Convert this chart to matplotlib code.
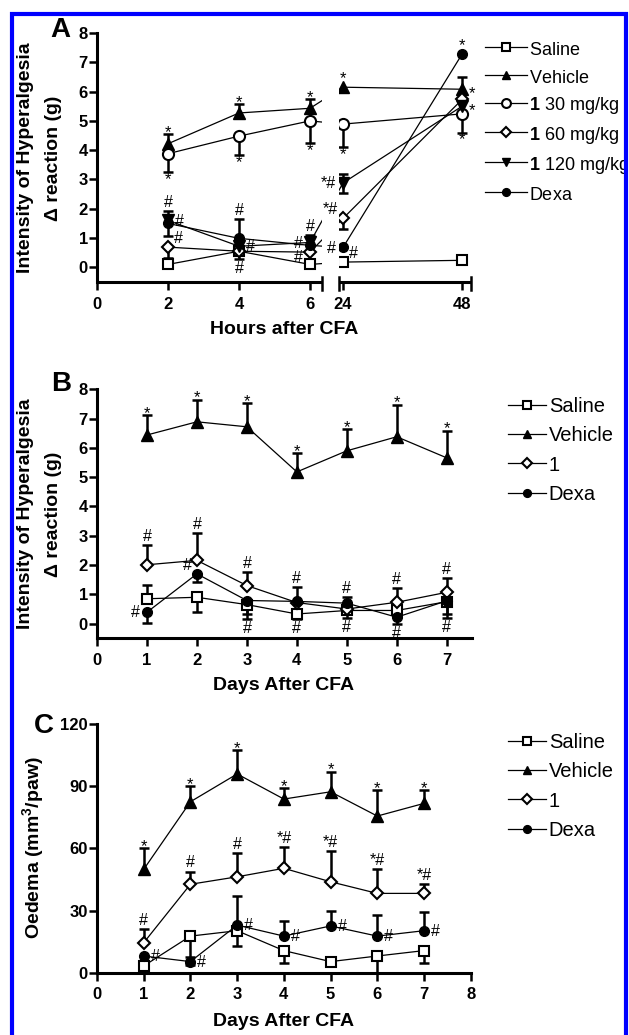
import numpy as np
import matplotlib
matplotlib.use("Agg")
import matplotlib.pyplot as plt
from matplotlib.patches import Rectangle

plt.rcParams['font.family'] = ['Liberation Sans', 'DejaVu Sans']
plt.rcParams['mathtext.fontset'] = 'custom'
plt.rcParams['mathtext.rm'] = 'Liberation Sans'
plt.rcParams['mathtext.bf'] = 'Liberation Sans:bold'

# ---------------- Panel A data (hours after CFA) ----------------
hours = [2, 4, 6, 24, 48]
hour_ticks = [0, 2, 4, 6, 24, 48]
a_saline = [0.10, 0.55, 0.10, 0.18, 0.24]
a_saline_up = [0, 0, 0, 0, 0]
a_saline_dn = [0, 0.25, 0, 0, 0]
a_vehicle = [4.22, 5.27, 5.43, 6.15, 6.08]
a_vehicle_up = [0.33, 0.30, 0.32, 0, 0.42]
a_vehicle_dn = [0, 0, 0, 0, 0]
a_30 = [3.88, 4.48, 5.00, 4.89, 5.24]
a_30_up = [0, 0, 0, 0, 0]
a_30_dn = [0.63, 0.65, 0.76, 0.79, 0.64]
a_60 = [0.69, 0.55, 0.52, 1.67, 5.73]
a_60_up = [0, 0, 0, 0, 0]
a_60_dn = [0.36, 0, 0, 0.37, 0]
a_120 = [1.60, 0.72, 0.85, 2.88, 5.50]
a_120_up = [0, 0, 0.25, 0.30, 0]
a_120_dn = [0, 0, 0, 0.33, 0]
a_dexa = [1.50, 0.99, 0.75, 0.68, 7.28]
a_dexa_up = [0.43, 0.67, 0, 0, 0]
a_dexa_dn = [0.43, 0, 0, 0, 0]
a_labels = [r'$\mathrm{Saline}$', r'$\mathrm{Vehicle}$', r'$\mathbf{1}$ 30 mg/kg',
            r'$\mathbf{1}$ 60 mg/kg', r'$\mathbf{1}$ 120 mg/kg', r'$\mathrm{Dexa}$']
a_yticks = [0, 1, 2, 3, 4, 5, 6, 7, 8]
a_notes = [('vehicle', 0, '*', 'above'), ('vehicle', 1, '*', 'above'), ('vehicle', 2, '*', 'above'),
           ('vehicle', 3, '*', 'above'), ('vehicle', 4, '*', 'right'),
           ('30', 0, '*', 'below'), ('30', 1, '*', 'below'), ('30', 2, '*', 'below'),
           ('30', 3, '*', 'below'), ('30', 4, '*', 'below'),
           ('120', 4, '*', 'right'),
           ('120', 3, '*#', 'left'), ('60', 3, '*#', 'upleft'), ('dexa', 3, '#', 'left'),
           ('dexa', 4, '*', 'above'), ('saline', 3, '#', 'upright'),
           ('dexa', 0, '#', 'above'), ('120', 0, '#', 'right'), ('60', 0, '#', 'upright'),
           ('dexa', 1, '#', 'above'), ('120', 1, '#', 'right'), ('saline', 1, '#', 'below'),
           ('120', 2, '#', 'above'), ('120', 2, '#', 'left'), ('60', 2, '#', 'downleft')]

# ---------------- Panel B data (days after CFA) ----------------
days = [1, 2, 3, 4, 5, 6, 7]
b_saline = [0.85, 0.90, 0.65, 0.33, 0.45, 0.45, 0.75]
b_saline_up = [0.47, 0, 0, 0, 0, 0, 0]
b_saline_dn = [0, 0.49, 0.32, 0.17, 0.25, 0.20, 0.42]
b_vehicle = [6.44, 6.89, 6.72, 5.18, 5.90, 6.38, 5.66]
b_vehicle_up = [0.68, 0.75, 0.80, 0.65, 0.73, 1.09, 0.93]
b_vehicle_dn = [0, 0, 0, 0, 0, 0, 0]
b_one = [2.01, 2.16, 1.30, 0.72, 0.50, 0.73, 1.07]
b_one_up = [0.66, 0.93, 0.46, 0, 0, 0.49, 0.49]
b_one_dn = [0, 0, 0, 0, 0, 0, 0]
b_dexa = [0.39, 1.70, 0.79, 0.76, 0.70, 0.22, 0.78]
b_dexa_up = [0, 0, 0, 0.48, 0.22, 0, 0]
b_dexa_dn = [0.38, 0.29, 0.63, 0, 0, 0.22, 0.58]
b_labels = ['Saline', 'Vehicle', '1', 'Dexa']
b_yticks = [0, 1, 2, 3, 4, 5, 6, 7, 8]
b_xticks = [0, 1, 2, 3, 4, 5, 6, 7]
b_notes = [('vehicle', i, '*', 'above') for i in range(7)] + \
          [('one', 0, '#', 'above'), ('one', 1, '#', 'above'), ('one', 2, '#', 'above'),
           ('dexa', 0, '#', 'left'), ('dexa', 1, '#', 'upleft'),
           ('dexa', 2, '#', 'below'), ('dexa', 3, '#', 'above'), ('saline', 3, '#', 'below'),
           ('dexa', 4, '#', 'above'), ('saline', 4, '#', 'below'),
           ('one', 5, '#', 'above'), ('dexa', 5, '#', 'below'),
           ('one', 6, '#', 'above'), ('dexa', 6, '#', 'below')]

# ---------------- Panel C data (oedema) ----------------
c_saline = [3.3, 17.7, 20.3, 10.7, 5.4, 8.1, 10.7]
c_saline_up = [0, 0, 16.7, 0, 0, 0, 0]
c_saline_dn = [0, 13.9, 7.4, 6.1, 0, 8.1, 6.1]
c_vehicle = [49.9, 82.5, 95.9, 83.8, 87.3, 75.6, 81.7]
c_vehicle_up = [10.1, 7.5, 11.5, 5.2, 9.7, 12.5, 6.4]
c_vehicle_dn = [0, 0, 0, 0, 0, 0, 0]
c_one = [14.5, 42.7, 46.3, 50.4, 43.9, 38.3, 38.3]
c_one_up = [6.5, 6.1, 11.6, 10.4, 15.0, 11.6, 4.5]
c_one_dn = [0, 0, 0, 0, 0, 0, 0]
c_dexa = [8.1, 5.4, 23.0, 17.7, 22.6, 17.7, 20.3]
c_dexa_up = [0, 2.4, 0, 7.4, 7.4, 10.2, 8.9]
c_dexa_dn = [0, 0, 0, 0, 0, 0, 0]
c_labels = ['Saline', 'Vehicle', '1', 'Dexa']
c_yticks = [0, 30, 60, 90, 120]
c_xticks = [0, 1, 2, 3, 4, 5, 6, 7, 8]
c_notes = [('vehicle', i, '*', 'above') for i in range(7)] + \
          [('one', 0, '#', 'above'), ('one', 1, '#', 'above'), ('one', 2, '#', 'above'),
           ('one', 3, '*#', 'above'), ('one', 4, '*#', 'above'), ('one', 5, '*#', 'above'),
           ('one', 6, '*#', 'above')] + \
          [('dexa', i, '#', 'right') for i in range(7)]

# ---------------- figure ----------------
W, H = 629, 1035
fig = plt.figure(figsize=(W / 100, H / 100), dpi=100)

def px_axes(l, r, top, bottom):
    return fig.add_axes([l / W, 1 - bottom / H, (r - l) / W, (bottom - top) / H])

STYLE = {
    'saline': dict(marker='s', ms=7.0, mfc='white', mew=1.5),
    'vehicle': dict(marker='^', ms=8.0, mfc='black', mew=1.0),
    '30': dict(marker='o', ms=8.0, mfc='white', mew=1.5),
    '60': dict(marker='D', ms=6.0, mfc='white', mew=1.5),
    '120': dict(marker='v', ms=8.0, mfc='black', mew=1.0),
    'one': dict(marker='D', ms=6.0, mfc='white', mew=1.5),
    'dexa': dict(marker='o', ms=7.0, mfc='black', mew=1.0),
}

def draw_series(ax, key, x, y, up, dn, label):
    x = np.asarray(x, float); y = np.asarray(y, float)
    up = np.asarray(up, float); dn = np.asarray(dn, float)
    for err, sgn in ((up, 1), (dn, -1)):
        m = err > 0
        if m.any():
            ax.vlines(x[m], y[m], y[m] + sgn * err[m], colors='black', lw=1.8, zorder=2.1)
            ax.plot(x[m], y[m] + sgn * err[m], ls='none', marker='_', ms=7.5, mew=1.8,
                    color='black', zorder=2.1)
    ln, = ax.plot(x, y, color='black', lw=0.9, mec='black', zorder=2.2, label=label,
                  **STYLE[key])
    return ln

def add_notes(ax, series, notes):
    for key, i, txt, mode in notes:
        x, y, up, dn = series[key]
        x, y, up, dn = x[i], y[i], up[i], dn[i]
        fs = 12 if txt == '*' else 11.5
        kw = dict(textcoords='offset points', fontsize=fs, zorder=4, annotation_clip=False)
        star = '#' not in txt
        if mode == 'above':
            extra = 0 if up > 0 else 5
            ax.annotate(txt, (x, y + up), xytext=(0, (-2 if star else 3) + extra),
                        ha='center', va='baseline', **kw)
        elif mode == 'below':
            extra = 0 if dn > 0 else -5
            ax.annotate(txt, (x, y - dn), xytext=(0, (0 if star else -1.5) + extra),
                        ha='center', va='top', **kw)
        elif mode == 'left':
            ax.annotate(txt, (x, y), xytext=(-5, -0.5 if not star else -3),
                        ha='right', va='center', **kw)
        elif mode == 'right':
            ax.annotate(txt, (x, y), xytext=(5, -0.5 if not star else -3),
                        ha='left', va='center', **kw)
        elif mode == 'upright':
            ax.annotate(txt, (x, y), xytext=(4, 3), ha='left', va='baseline', **kw)
        elif mode == 'upleft':
            ax.annotate(txt, (x, y), xytext=(-4, 3), ha='right', va='baseline', **kw)
        elif mode == 'downleft':
            ax.annotate(txt, (x, y), xytext=(-5, -4), ha='right', va='center', **kw)

def style_axes(ax, xpad=5):
    for s in ['top', 'right']:
        ax.spines[s].set_visible(False)
    for s in ['left', 'bottom']:
        ax.spines[s].set_linewidth(2.2)
    ax.tick_params(axis='both', direction='out', length=5.5, width=1.8, labelsize=12)
    ax.tick_params(axis='y', pad=1)
    ax.tick_params(axis='x', pad=xpad)
    for lab in ax.get_xticklabels() + ax.get_yticklabels():
        lab.set_fontweight('bold')

def add_legend(ax, handles, labels, x_px, y_px, fs, hlen, pad, pitch, hheight=0.7):
    return ax.legend(handles, labels, loc='upper left',
                     bbox_to_anchor=(x_px / W, 1 - y_px / H), bbox_transform=fig.transFigure,
                     frameon=False, fontsize=fs, handlelength=hlen, handletextpad=pad,
                     labelspacing=pitch, borderpad=0, borderaxespad=0, numpoints=1,
                     markerscale=0.8, handleheight=hheight)

# ---------- Panel A with broken x axis ----------
BRK_LO, BRK_HI = 225 / 35.5, 23.2

def fwd(x):
    x = np.asarray(x, float)
    return np.where(x <= BRK_LO, x * 35.5,
                    np.where(x <= BRK_HI, 225 + (x - BRK_LO) * 17 / (BRK_HI - BRK_LO),
                             242 + (x - BRK_HI) * 4.96))

def inv(u):
    u = np.asarray(u, float)
    return np.where(u <= 225, u / 35.5,
                    np.where(u <= 242, BRK_LO + (u - 225) * (BRK_HI - BRK_LO) / 17,
                             BRK_HI + (u - 242) / 4.96))

axA = px_axes(97, 471, 33, 282)
axA.set_xscale('function', functions=(fwd, inv))
A_XMAX = 49.8
axA.set_xlim(0, A_XMAX)
axA.set_ylim(-0.5, 8)
series_a = {
    'saline': (hours, a_saline, a_saline_up, a_saline_dn),
    'vehicle': (hours, a_vehicle, a_vehicle_up, a_vehicle_dn),
    '30': (hours, a_30, a_30_up, a_30_dn),
    '60': (hours, a_60, a_60_up, a_60_dn),
    '120': (hours, a_120, a_120_up, a_120_dn),
    'dexa': (hours, a_dexa, a_dexa_up, a_dexa_dn),
}
hA = []
for key, lab in zip(['saline', 'vehicle', '30', '60', '120', 'dexa'], a_labels):
    hA.append(draw_series(axA, key, *series_a[key], lab))
axA.axvspan(BRK_LO, BRK_HI, color='white', zorder=2.6, lw=0)
add_notes(axA, series_a, a_notes)
axA.set_xticks(hour_ticks)
axA.set_yticks(a_yticks)
axA.xaxis.set_minor_locator(matplotlib.ticker.NullLocator())
style_axes(axA)
axA.spines['bottom'].set_visible(False)
tr = axA.get_xaxis_transform()
for x0, x1 in ((0, BRK_LO), (BRK_HI, A_XMAX)):
    axA.plot([x0, x1], [0, 0], transform=tr, color='black', lw=2.2,
             solid_capstyle='butt', clip_on=False, zorder=5)
for xe in (BRK_LO, BRK_HI, A_XMAX):
    axA.plot([xe, xe], [-8 / 249, 5 / 249], transform=tr, color='black', lw=1.8,
             clip_on=False, zorder=5)
add_legend(axA, hA, a_labels, 485, 39, 13, 2.3, 0.15, 0.437, hheight=1.3)

# ---------- Panel B ----------
axB = px_axes(97, 471.7, 389.3, 638.3)
axB.set_xlim(0, 7.5)
axB.set_ylim(-0.5, 8)
series_b = {
    'saline': (days, b_saline, b_saline_up, b_saline_dn),
    'vehicle': (days, b_vehicle, b_vehicle_up, b_vehicle_dn),
    'one': (days, b_one, b_one_up, b_one_dn),
    'dexa': (days, b_dexa, b_dexa_up, b_dexa_dn),
}
hB = [draw_series(axB, k, *series_b[k], lab) for k, lab in
      zip(['saline', 'vehicle', 'one', 'dexa'], b_labels)]
add_notes(axB, series_b, b_notes)
axB.set_xticks(b_xticks)
axB.set_yticks(b_yticks)
style_axes(axB)
add_legend(axB, hB, b_labels, 508, 397, 14.5, 1.9, 0.12, 0.51)

# ---------- Panel C ----------
axC = px_axes(97, 470.7, 724, 972.8)
axC.set_xlim(0, 8)
axC.set_ylim(0, 120)
series_c = {
    'saline': (days, c_saline, c_saline_up, c_saline_dn),
    'vehicle': (days, c_vehicle, c_vehicle_up, c_vehicle_dn),
    'one': (days, c_one, c_one_up, c_one_dn),
    'dexa': (days, c_dexa, c_dexa_up, c_dexa_dn),
}
hC = [draw_series(axC, k, *series_c[k], lab) for k, lab in
      zip(['saline', 'vehicle', 'one', 'dexa'], c_labels)]
add_notes(axC, series_c, c_notes)
axC.set_xticks(c_xticks)
axC.set_yticks(c_yticks)
style_axes(axC)
add_legend(axC, hC, c_labels, 508, 733, 14.5, 1.9, 0.12, 0.51)

# ---------- labels ----------
LFS = 14
def ftext(x, y, s, **kw):
    fig.text(x / W, 1 - y / H, s, **kw)

ftext(60, 30, 'A', fontsize=20, fontweight='bold', ha='center', va='center')
ftext(61, 384, 'B', fontsize=20, fontweight='bold', ha='center', va='center')
ftext(44, 726, 'C', fontsize=20, fontweight='bold', ha='center', va='center')

for yc in (158, 514):
    ftext(26, yc, 'Intensity of Hyperalgesia', fontsize=LFS, fontweight='bold',
          rotation=90, ha='center', va='center')
    ftext(54, yc, '\u0394 reaction (g)', fontsize=LFS, fontweight='bold',
          rotation=90, ha='center', va='center')
ftext(34, 848, 'Oedema (mm$^{\\mathbf{3}}$/paw)', fontsize=LFS, fontweight='bold',
      rotation=90, ha='center', va='center')

ftext(284, 330, 'Hours after CFA', fontsize=LFS, fontweight='bold', ha='center', va='center')
ftext(284, 685, 'Days After CFA', fontsize=LFS, fontweight='bold', ha='center', va='center')
ftext(284, 1022, 'Days After CFA', fontsize=LFS, fontweight='bold', ha='center', va='center')

# blue frame
fig.add_artist(Rectangle((11.5 / W, -0.02), (626 - 11.5) / W, 1.02 - 14 / H,
                         transform=fig.transFigure, fill=False, edgecolor='#0000ff',
                         lw=3.0, zorder=10))

fig.savefig('out.png', dpi=100)
